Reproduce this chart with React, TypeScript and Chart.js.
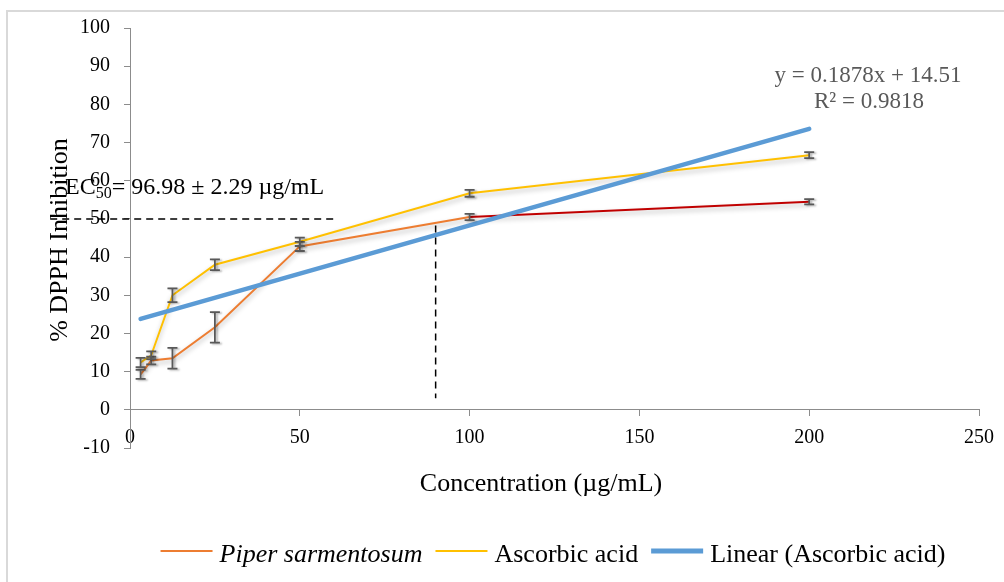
import React, { useEffect, useRef } from 'react';
import { Chart, registerables } from 'chart.js';

Chart.register(...registerables);

// ---- data ----
const concentrations = [3.125, 6.25, 12.5, 25, 50, 100, 200];
const piperValues = [9.3, 12.9, 13.5, 21.6, 42.8, 50.5, 54.5];
const piperErrors = [1.2, 1.0, 2.7, 4.0, 1.2, 0.8, 0.7];
const ascorbicValues = [12.4, 14.3, 30.0, 38.0, 44.0, 56.7, 66.7];
const ascorbicErrors = [1.2, 1.0, 1.8, 1.4, 1.1, 0.9, 0.8];
const trendX = [3.125, 200];
const trendY = [23.8, 73.6];

const seriesLabels = ['Piper sarmentosum', 'Ascorbic acid', 'Linear (Ascorbic acid)'];
const xTitle = 'Concentration (µg/mL)';
const yTitle = '% DPPH Inhibition';
const equationLines = ['y = 0.1878x + 14.51', 'R² = 0.9818'];
const ec50Prefix = 'EC';
const ec50Sub = '50';
const ec50Rest = '= 96.98 ± 2.29 µg/mL';

const xMin = 0, xMax = 250, xStep = 50;
const yMin = -10, yMax = 100, yStep = 10;

// EC50 guide lines (in data units)
const ec50HLineY = 50;
const ec50HLineX = [-23.5, 60];
const ec50VLineX = 90;
const ec50VLineY = [3, 48.3];

const SERIF = "'Liberation Serif', 'Times New Roman', serif";
const ORANGE = '#ED7D31';
const YELLOW = '#FFC000';
const BLUE = '#5B9BD5';
const DARKRED = '#C00000';
const AXIS = '#8c8c8c';

const toPts = (xs: number[], ys: number[]) => xs.map((x, i) => ({ x, y: ys[i] }));

const overlayPlugin = {
  id: 'overlay',
  beforeDraw(chart: any) {
    const ctx = chart.ctx;
    ctx.save();
    ctx.fillStyle = '#ffffff';
    ctx.fillRect(0, 0, chart.width, chart.height);
    ctx.strokeStyle = '#d9d9d9';
    ctx.lineWidth = 2;
    ctx.strokeRect(7, 11, chart.width + 20, chart.height + 20);
    ctx.restore();
  },
  beforeDatasetDraw(chart: any, args: any) {
    const ctx = chart.ctx;
    ctx.save();
    if (args.index < 2) {
      ctx.shadowColor = 'rgba(0,0,0,0.28)';
      ctx.shadowBlur = 5;
      ctx.shadowOffsetY = 3;
    }
  },
  afterDatasetDraw(chart: any) {
    chart.ctx.restore();
  },
  afterDatasetsDraw(chart: any) {
    const ctx = chart.ctx;
    const ys = chart.scales.y;
    const errs = [piperErrors, ascorbicErrors];
    const vals = [piperValues, ascorbicValues];
    ctx.save();
    ctx.strokeStyle = '#595959';
    ctx.lineWidth = 1.8;
    ctx.shadowColor = 'rgba(0,0,0,0.3)';
    ctx.shadowBlur = 2;
    ctx.shadowOffsetX = 2;
    ctx.shadowOffsetY = 1;
    for (let d = 0; d < 2; d++) {
      const meta = chart.getDatasetMeta(d);
      meta.data.forEach((pt: any, i: number) => {
        const x = pt.x;
        const top = ys.getPixelForValue(vals[d][i] + errs[d][i]);
        const bot = ys.getPixelForValue(vals[d][i] - errs[d][i]);
        ctx.beginPath();
        ctx.moveTo(x, top);
        ctx.lineTo(x, bot);
        ctx.moveTo(x - 5, top);
        ctx.lineTo(x + 5, top);
        ctx.moveTo(x - 5, bot);
        ctx.lineTo(x + 5, bot);
        ctx.stroke();
      });
    }
    ctx.restore();
  },
  afterDraw(chart: any) {
    const ctx = chart.ctx;
    const xs = chart.scales.x;
    const ys = chart.scales.y;
    ctx.save();
    // dashed EC50 guides
    ctx.strokeStyle = '#000';
    ctx.lineWidth = 1.5;
    ctx.setLineDash([7, 5]);
    ctx.beginPath();
    const hy = ys.getPixelForValue(ec50HLineY);
    ctx.moveTo(xs.getPixelForValue(ec50HLineX[0]), hy);
    ctx.lineTo(xs.getPixelForValue(ec50HLineX[1]), hy);
    const vx = xs.getPixelForValue(ec50VLineX);
    ctx.moveTo(vx, ys.getPixelForValue(ec50VLineY[1]));
    ctx.lineTo(vx, ys.getPixelForValue(ec50VLineY[0]));
    ctx.stroke();
    ctx.setLineDash([]);

    // EC50 text
    ctx.fillStyle = '#000';
    ctx.textBaseline = 'alphabetic';
    ctx.textAlign = 'left';
    let tx = 65;
    ctx.font = `24px ${SERIF}`;
    ctx.fillText(ec50Prefix, tx, 194);
    tx += ctx.measureText(ec50Prefix).width;
    ctx.font = `16px ${SERIF}`;
    ctx.fillText(ec50Sub, tx, 198);
    tx += ctx.measureText(ec50Sub).width;
    ctx.font = `24px ${SERIF}`;
    ctx.fillText(ec50Rest, tx, 194);

    // trendline equation
    ctx.fillStyle = '#595959';
    ctx.textAlign = 'center';
    ctx.font = `23px ${SERIF}`;
    ctx.fillText(equationLines[0], 868, 82);
    ctx.fillText(equationLines[1], 869, 108);

    // axis titles
    ctx.fillStyle = '#000';
    ctx.font = `26px ${SERIF}`;
    ctx.fillText(xTitle, 541, 491);
    ctx.save();
    ctx.translate(67, 240);
    ctx.rotate(-Math.PI / 2);
    ctx.fillText(yTitle, 0, 0);
    ctx.restore();

    // legend
    const colors = [ORANGE, YELLOW, BLUE];
    const widths = [2, 2, 5];
    const fonts = [`italic 26px ${SERIF}`, `26px ${SERIF}`, `26px ${SERIF}`];
    const lineLen = 52, gapLT = 7, gapItem = 13;
    let total = 0;
    const tw: number[] = [];
    seriesLabels.forEach((l, i) => {
      ctx.font = fonts[i];
      tw[i] = ctx.measureText(l).width;
      total += lineLen + gapLT + tw[i] + (i < 2 ? gapItem : 0);
    });
    let lx = 553 - total / 2;
    const ly = 551;
    ctx.textAlign = 'left';
    seriesLabels.forEach((l, i) => {
      ctx.strokeStyle = colors[i];
      ctx.lineWidth = widths[i];
      ctx.beginPath();
      ctx.moveTo(lx, ly);
      ctx.lineTo(lx + lineLen, ly);
      ctx.stroke();
      lx += lineLen + gapLT;
      ctx.font = fonts[i];
      ctx.fillStyle = '#000';
      ctx.fillText(l, lx, 562);
      lx += tw[i] + gapItem;
    });
    ctx.restore();
  },
};

export default function App() {
  const ref = useRef<HTMLCanvasElement | null>(null);

  useEffect(() => {
    if (!ref.current) return;
    const chart = new Chart(ref.current, {
      type: 'line',
      data: {
        datasets: [
          {
            label: seriesLabels[0],
            data: toPts(concentrations, piperValues),
            borderColor: ORANGE,
            borderWidth: 2,
            pointRadius: 0,
            order: 2,
            segment: {
              borderColor: (c: any) => (c.p0DataIndex >= 5 ? DARKRED : undefined),
            },
          },
          {
            label: seriesLabels[1],
            data: toPts(concentrations, ascorbicValues),
            borderColor: YELLOW,
            borderWidth: 2,
            pointRadius: 0,
            order: 1,
          },
          {
            label: seriesLabels[2],
            data: toPts(trendX, trendY),
            borderColor: BLUE,
            borderWidth: 4.5,
            pointRadius: 0,
            order: 0,
            borderCapStyle: 'round',
          },
        ],
      },
      options: {
        responsive: false,
        animation: false,
        layout: { padding: { left: 0, top: 28, right: 24, bottom: 134 } },
        plugins: { legend: { display: false }, tooltip: { enabled: false } },
        scales: {
          x: {
            type: 'linear',
            position: { y: 0 } as any,
            min: xMin,
            max: xMax,
            ticks: {
              stepSize: xStep,
              color: '#000',
              font: { family: SERIF, size: 20 },
              padding: 10,
              maxRotation: 0,
            },
            grid: { display: true, drawOnChartArea: false, drawTicks: true, tickLength: 6, color: AXIS },
            border: { display: true, color: AXIS, width: 1 },
          },
          y: {
            type: 'linear',
            position: 'left',
            min: yMin,
            max: yMax,
            ticks: {
              stepSize: yStep,
              color: '#000',
              font: { family: SERIF, size: 20 },
              padding: 14,
            },
            grid: { display: true, drawOnChartArea: false, drawTicks: true, tickLength: 6, color: AXIS },
            border: { display: true, color: AXIS, width: 1 },
            afterFit: (s: any) => {
              s.width = 130;
            },
          },
        },
      },
      plugins: [overlayPlugin],
    } as any);
    return () => chart.destroy();
  }, []);

  return (
    <div style={{ position: 'fixed', left: 0, top: 0, width: 1004, height: 582, background: '#fff' }}>
      <canvas ref={ref} width={1004} height={582} style={{ display: 'block' }} />
    </div>
  );
}
